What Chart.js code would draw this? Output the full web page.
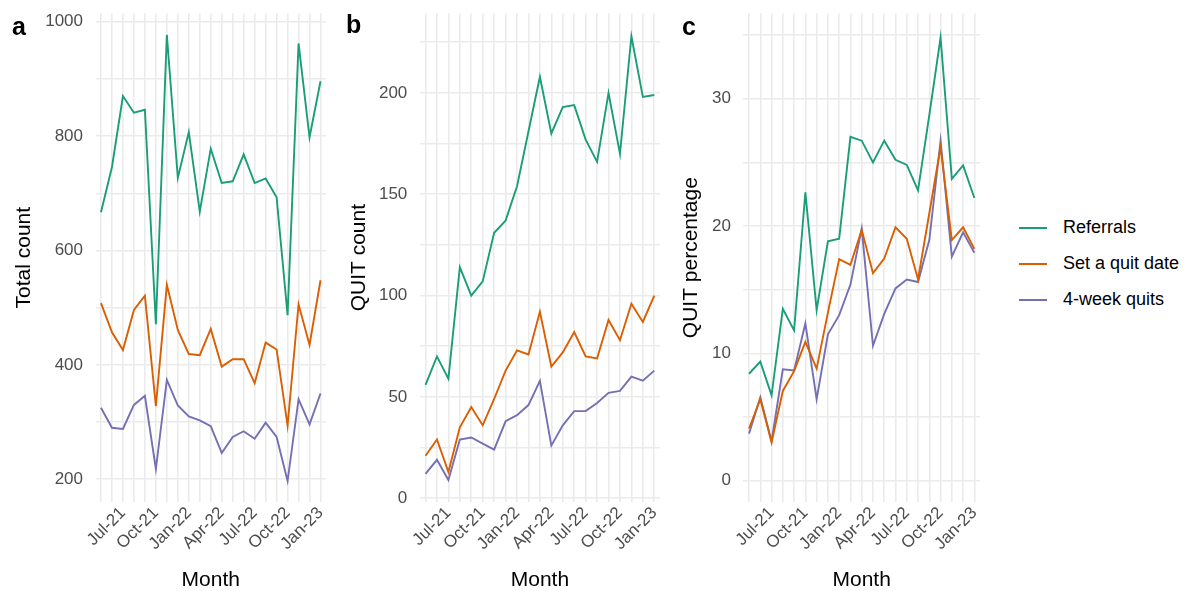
<!DOCTYPE html>
<html>
<head>
<meta charset="utf-8">
<script src="https://cdn.jsdelivr.net/npm/chart.js@4.4.0/dist/chart.umd.min.js"></script>
<style>
  html,body{margin:0;padding:0;background:#fff;}
  body{width:1184px;height:591px;position:relative;overflow:hidden;font-family:"Liberation Sans",Arial,sans-serif;}
  .panel{position:absolute;top:0;height:591px;}
  .tag{position:absolute;font-weight:bold;font-size:25px;color:#000;line-height:1;}
  #legend{position:absolute;left:1019px;top:0;}
  .key{position:absolute;left:0;width:190px;height:20px;}
  .key i{position:absolute;left:0;top:9px;width:28px;height:2px;}
  .key span{position:absolute;left:44px;top:-1px;font-size:18px;color:#000;white-space:nowrap;}
</style>
</head>
<body>
<div class="panel" style="left:0;width:330px"><canvas id="chartA"></canvas></div>
<div class="panel" style="left:335px;width:329px"><canvas id="chartB"></canvas></div>
<div class="panel" style="left:668px;width:316px"><canvas id="chartC"></canvas></div>
<div class="tag" style="left:12px;top:14px">a</div>
<div class="tag" style="left:346px;top:12px">b</div>
<div class="tag" style="left:682px;top:14px">c</div>
<div id="legend"></div>
<script>
// months, May-21 .. Jan-23
const months = ['May-21','Jun-21','Jul-21','Aug-21','Sep-21','Oct-21','Nov-21','Dec-21',
  'Jan-22','Feb-22','Mar-22','Apr-22','May-22','Jun-22','Jul-22','Aug-22','Sep-22','Oct-22',
  'Nov-22','Dec-22','Jan-23'];

const seriesNames = ['Referrals','Set a quit date','4-week quits'];
const seriesColors = ['#1B9E77','#D95F02','#7570B3'];

// a) total count
const totalReferrals = [667,746,870,841,846,471,977,727,807,668,778,718,721,768,718,726,693,487,962,798,896];
const totalQuitDate  = [508,457,426,496,521,328,540,461,419,417,463,397,410,410,368,439,427,294,506,435,548];
const totalQuits     = [325,290,288,330,346,218,374,329,310,303,293,246,274,284,271,299,274,197,340,296,350];

// b) QUIT count
const quitReferrals = [56,70,59,114,100,107,131,137,154,181,208,180,193,194,177,166,200,170,228,198,199];
const quitQuitDate  = [21,29,13,35,45,36,49,63,73,71,92,65,72,82,70,69,88,78,96,87,100];
const quitQuits     = [12,19,9,29,30,27,24,38,41,46,58,26,36,43,43,47,52,53,60,58,63];

// c) QUIT percentage
const pctReferrals = [8.4,9.35,6.7,13.5,11.8,22.65,13.4,18.8,19.0,27.0,26.7,25.0,26.7,25.2,24.8,22.8,28.7,34.8,23.7,24.75,22.2];
const pctQuitDate  = [4.1,6.4,3.0,7.05,8.6,10.9,8.8,13.2,17.4,16.95,19.7,16.3,17.45,19.9,19.0,15.8,21.0,26.2,18.9,19.9,18.2];
const pctQuits     = [3.7,6.55,3.1,8.75,8.65,12.35,6.4,11.5,13.0,15.4,19.8,10.6,13.1,15.1,15.8,15.6,18.9,26.7,17.6,19.5,17.9];

// y ticks (grid every minor step, label every major step)
const yTicksA = [200,300,400,500,600,700,800,900,1000];
const yTicksB = [0,25,50,75,100,125,150,175,200,225];
const yTicksC = [0,5,10,15,20,25,30,35];

const FONT = '"Liberation Sans", Arial, sans-serif';
const GRID = '#EBEBEB';

function makeChart(id, title, series, yTicks, yLabelStep, yMin, yMax, yWidth, titlePad){
  const datasets = series.map((vals,i)=>({
    label: seriesNames[i],
    data: vals.map((v,j)=>({x:j, y:v})),
    borderColor: seriesColors[i],
    backgroundColor: seriesColors[i],
    borderWidth: 1.9,
    pointRadius: 0,
    tension: 0,
    fill: false
  }));
  return new Chart(document.getElementById(id), {
    type: 'line',
    data: { datasets },
    options: {
      responsive: true, maintainAspectRatio: false, animation: false,
      layout: { padding: { top: 13.3, right: 4, bottom: 0, left: 0 } },
      plugins: { legend: {display:false}, tooltip: {enabled:false} },
      scales: {
        x: {
          type: 'linear', min: -0.5, max: 20.5,
          afterBuildTicks: s => { s.ticks = months.map((m,i)=>({value:i})); },
          afterFit: s => { s.height = 89; s.paddingLeft = 0; s.paddingRight = 0; },
          grid: { color: GRID, lineWidth: 1.6, drawTicks: false },
          border: { display: false },
          ticks: {
            autoSkip: false, maxRotation: 45, minRotation: 45, padding: 1,
            color: '#4D4D4D', font: { family: FONT, size: 17 },
            callback: v => (v % 3 === 2 ? months[v] : '')
          },
          title: { display: true, text: 'Month', color: '#000', font: { family: FONT, size: 21, lineHeight: 1 }, padding: { top: 0, bottom: 0 } }
        },
        y: {
          min: yMin, max: yMax,
          afterBuildTicks: s => { s.ticks = yTicks.map(v=>({value:v})); },
          afterFit: s => { s.width = yWidth; s.paddingTop = 0; s.paddingBottom = 0; },
          grid: { color: GRID, lineWidth: 1.6, drawTicks: false },
          border: { display: false },
          ticks: {
            padding: 12.5, color: '#4D4D4D', font: { family: FONT, size: 17 },
            callback: v => (v % yLabelStep === 0 ? String(v) : '')
          },
          title: { display: true, text: title, color: '#000', font: { family: FONT, size: 21 }, padding: { top: titlePad, bottom: 0 } }
        }
      }
    }
  });
}

makeChart('chartA', 'Total count', [totalReferrals, totalQuitDate, totalQuits], yTicksA, 200, 160.3, 1014.7, 95.5, 11.5);
makeChart('chartB', 'QUIT count', [quitReferrals, quitQuitDate, quitQuits], yTicksB, 50, -1.83, 239.3, 84.8, 12);
makeChart('chartC', 'QUIT percentage', [pctReferrals, pctQuitDate, pctQuits], yTicksC, 10, -1.67, 36.7, 75.4, 10.5);

// legend
const legend = document.getElementById('legend');
seriesNames.forEach((name,i)=>{
  const row = document.createElement('div');
  row.className = 'key';
  row.style.top = (218 + i*36) + 'px';
  row.innerHTML = '<i style="background:'+seriesColors[i]+'"></i><span>'+name+'</span>';
  legend.appendChild(row);
});
</script>
</body>
</html>
